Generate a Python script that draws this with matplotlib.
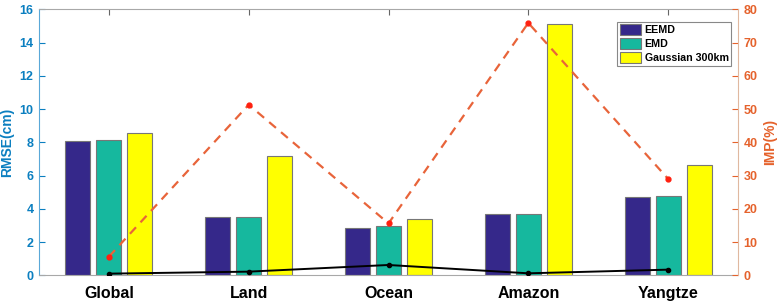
import matplotlib
matplotlib.use("Agg")
import matplotlib.pyplot as plt
from matplotlib.patches import Patch
import numpy as np

categories = ["Global", "Land", "Ocean", "Amazon", "Yangtze"]
eemd = [8.09, 3.50, 2.84, 3.67, 4.69]
emd = [8.15, 3.52, 2.94, 3.71, 4.79]
gauss = [8.58, 7.19, 3.38, 15.11, 6.61]
imp_gauss = [5.6, 51.3, 15.6, 75.9, 29.0]
imp_emd = [0.5, 1.1, 3.1, 0.6, 1.7]
series_names = ["EEMD", "EMD", "Gaussian 300km"]

plt.rcParams['font.family'] = ['Liberation Sans', 'DejaVu Sans']
plt.rcParams['font.weight'] = 'bold'

left_c = '#0b7fc0'
right_c = '#e5622c'
bar_cols = ['#35288a', '#16b89e', '#ffff00']
edge_c = '#777777'

fig = plt.figure(figsize=(7.82, 3.03), dpi=100)
ax = fig.add_axes([39/782, 1 - 275.3/303, (738-39)/782, (275.3-9.3)/303])
x = np.arange(1, len(categories) + 1)
w = 0.178
off = 0.222
for i, vals in enumerate([eemd, emd, gauss]):
    ax.bar(x + (i - 1) * off, vals, width=w, color=bar_cols[i], edgecolor=edge_c,
           linewidth=0.8, zorder=2)
ax.set_xlim(0.5, 5.5)
ax.set_ylim(0, 16)
ax.set_yticks(np.arange(0, 17, 2))
ax.set_xticks(x)
ax.set_xticklabels(categories, fontsize=11.5, fontweight='bold')
ax.tick_params(axis='x', direction='in', top=True, length=4, color='#666666', pad=8)
ax.tick_params(axis='y', direction='in', length=4, colors=left_c, labelsize=9, pad=4)
for lab in ax.get_yticklabels():
    lab.set_fontweight('bold')
ax.set_ylabel("RMSE(cm)", color=left_c, fontsize=10, fontweight='bold', labelpad=4)
ax.spines['left'].set_color('#5aa8d8')
ax.spines['top'].set_color('#a8a8a8')
ax.spines['bottom'].set_color('#a8a8a8')
ax.spines['right'].set_visible(False)

ax2 = ax.twinx()
ax2.set_ylim(0, 80)
ax2.set_yticks(np.arange(0, 81, 10))
ax2.tick_params(axis='y', direction='in', length=4, colors=right_c, labelsize=9, pad=4)
for lab in ax2.get_yticklabels():
    lab.set_fontweight('bold')
ax2.set_ylabel("IMP(%)", color=right_c, fontsize=10, fontweight='bold', labelpad=4)
ax2.spines['right'].set_color('#e0b8a0')
for s in ['left', 'top', 'bottom']:
    ax2.spines[s].set_visible(False)
ax2.plot(x, imp_gauss, linestyle=(0, (4, 3)), color='#e8643a', linewidth=1.6,
         marker='o', markersize=3.5, markerfacecolor='#ff2010', markeredgecolor='#ff2010', zorder=3)
ax2.plot(x, imp_emd, linestyle='-', color='black', linewidth=1.4,
         marker='o', markersize=3, markerfacecolor='black', markeredgecolor='black', zorder=3)

handles = [Patch(facecolor=bar_cols[i], edgecolor=edge_c, linewidth=0.8) for i in range(3)]
leg = ax2.legend(handles, series_names, loc='upper right', bbox_to_anchor=(0.995, 0.965),
                 prop={'weight': 'bold', 'size': 7.7}, frameon=True, fancybox=False,
                 edgecolor='#888888', framealpha=1, borderpad=0.25, labelspacing=0.3,
                 handlelength=2.0, handleheight=1.1, handletextpad=0.3, borderaxespad=0.3)
leg.get_frame().set_linewidth(0.8)

fig.savefig("out.png", dpi=100)
